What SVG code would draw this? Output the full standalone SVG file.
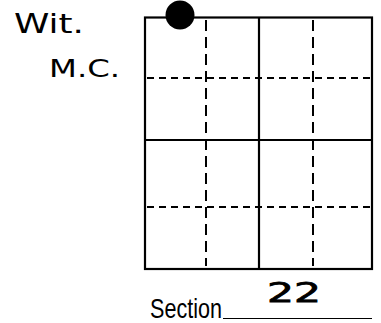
<svg xmlns="http://www.w3.org/2000/svg" width="381" height="323" viewBox="0 0 381 323">
<style>
.solid{stroke:#000;stroke-width:2.2;fill:none}
.dash{stroke:#000;stroke-width:2;fill:none;stroke-dasharray:7 5}
.vdash{stroke:#000;stroke-width:2;fill:none;stroke-dasharray:11 6}
.hand{font-family:"DejaVu Sans",sans-serif;fill:#000}
.print{font-family:"Liberation Sans",Arial,sans-serif;fill:#000}
</style>
<rect width="381" height="323" fill="#fff"/>
<g id="labels">
<text class="hand" x="14" y="33" font-size="26" textLength="70" lengthAdjust="spacingAndGlyphs">Wit.</text>
<text class="hand" x="49" y="77" font-size="24" textLength="71" lengthAdjust="spacingAndGlyphs">M.C.</text>
</g>
<g id="grid">
<rect class="solid" x="145" y="17.5" width="227" height="251.5"/>
<line class="solid" x1="259" y1="17.5" x2="259" y2="269"/>
<line class="solid" x1="145" y1="140" x2="372" y2="140"/>
</g>
<g id="connectors">
<line class="vdash" x1="206" y1="20" x2="206" y2="266"/>
<line class="vdash" x1="313" y1="20" x2="313" y2="266"/>
<line class="dash" x1="147" y1="78" x2="370" y2="78"/>
<line class="dash" x1="147" y1="207" x2="370" y2="207"/>
</g>
<g id="marker">
<circle cx="180" cy="15" r="14.5" fill="#000"/>
</g>
<g id="section">
<text class="print" x="150" y="318" font-size="28" textLength="72" lengthAdjust="spacingAndGlyphs">Section</text>
<line x1="223" y1="318.5" x2="372" y2="318.5" stroke="#000" stroke-width="1.2"/>
<text class="hand" x="267" y="302" font-size="27" stroke="#000" stroke-width="0.8" textLength="54" lengthAdjust="spacingAndGlyphs">22</text>
</g>
</svg>
